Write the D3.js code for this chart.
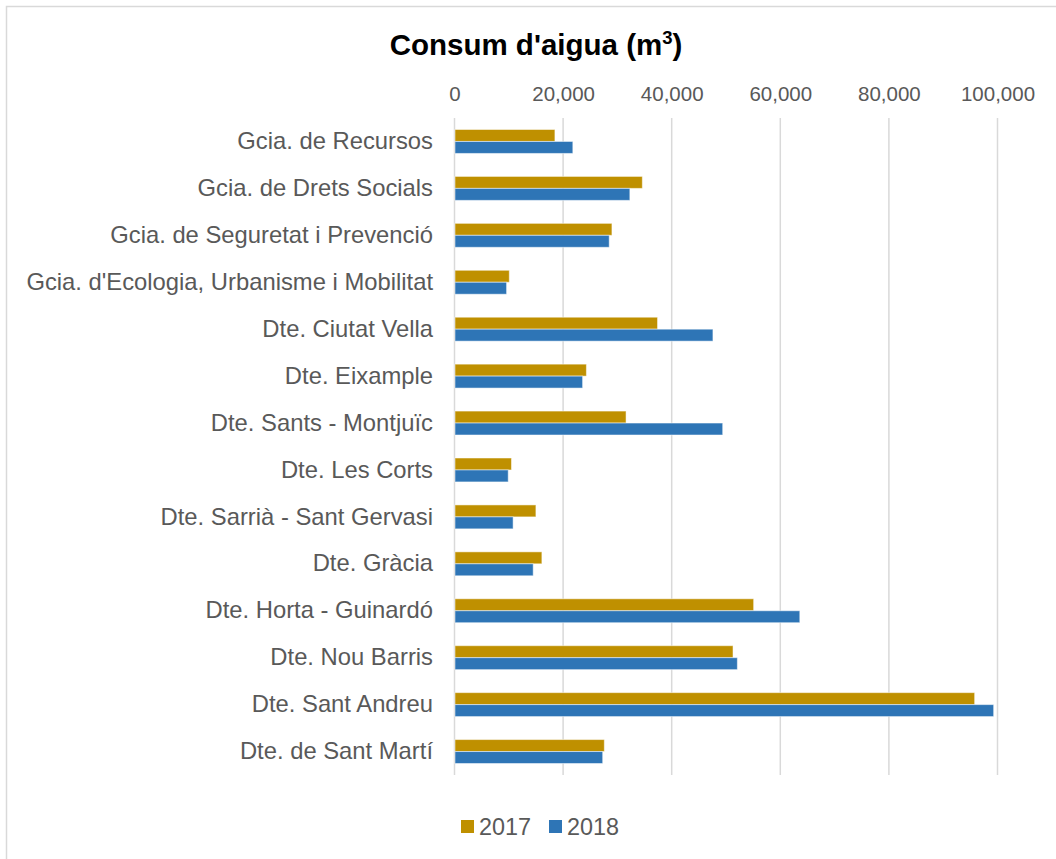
<!DOCTYPE html>
<html>
<head>
<meta charset="utf-8">
<script src="https://cdn.jsdelivr.net/npm/d3@7"></script>
<style>
  body { margin: 0; background: #fff; }
  text { font-family: "Liberation Sans", Arial, sans-serif; }
</style>
</head>
<body>
<div id="chart"></div>
<script>
// categories top to bottom
var categories = [
    "Gcia. de Recursos",
    "Gcia. de Drets Socials",
    "Gcia. de Seguretat i Prevenció",
    "Gcia. d'Ecologia, Urbanisme i Mobilitat",
    "Dte. Ciutat Vella",
    "Dte. Eixample",
    "Dte. Sants - Montjuïc",
    "Dte. Les Corts",
    "Dte. Sarrià - Sant Gervasi",
    "Dte. Gràcia",
    "Dte. Horta - Guinardó",
    "Dte. Nou Barris",
    "Dte. Sant Andreu",
    "Dte. de Sant Martí"
];
var values2017 = [18400, 34500, 28900, 10000, 37300, 24200, 31500, 10400, 14900, 16000, 55000, 51200, 95700, 27500];
var values2018 = [21700, 32200, 28400, 9500, 47500, 23500, 49300, 9800, 10700, 14400, 63500, 52000, 99200, 27200];
var series = ["2017", "2018"];
var seriesColors = ["#BF9000", "#2E75B6"];
var tickValues = [0, 20000, 40000, 60000, 80000, 100000];

var W = 1056, H = 859;
var plotLeft = 454.5, plotRight = 997.5, plotTop = 118, plotBottom = 775;

var svg = d3.select("#chart").append("svg").attr("width", W).attr("height", H);

// outer chart border (cut off on the right and bottom)
svg.append("rect")
    .attr("x", 6.5).attr("y", 6.5)
    .attr("width", W + 10).attr("height", H + 10)
    .attr("fill", "#fff").attr("stroke", "#d9d9d9").attr("stroke-width", 1.5);

var x = d3.scaleLinear().domain([0, 100000]).range([plotLeft, plotRight]);
var y = d3.scaleBand().domain(categories).range([plotTop, plotBottom]).paddingInner(0.49).paddingOuter(0.245);
var ySub = d3.scaleBand().domain(series).range([0, y.bandwidth()]);

// gridlines
svg.append("g").selectAll("line")
    .data(tickValues)
    .enter().append("line")
    .attr("x1", function(d) { return x(d); })
    .attr("x2", function(d) { return x(d); })
    .attr("y1", plotTop).attr("y2", plotBottom)
    .attr("stroke", "#d9d9d9").attr("stroke-width", 1.5);

// top axis labels
var xAxis = d3.axisTop(x).tickValues(tickValues).tickFormat(d3.format(",")).tickSize(0).tickPadding(0);
var gx = svg.append("g").attr("transform", "translate(0,101)").call(xAxis);
gx.select(".domain").remove();
gx.selectAll("text")
    .attr("fill", "#595959")
    .style("font-size", "20.5px")
    .style("font-family", "'Liberation Sans', Arial, sans-serif")
    .attr("dy", 0);

// category labels
var yAxis = d3.axisLeft(y).tickSize(0).tickPadding(21.5);
var gy = svg.append("g").attr("transform", "translate(" + plotLeft + ",0)").call(yAxis);
gy.select(".domain").remove();
gy.selectAll("text")
    .attr("fill", "#595959")
    .style("font-size", "23.8px")
    .style("font-family", "'Liberation Sans', Arial, sans-serif");

// bars
var rows = categories.map(function(c, i) {
    return { cat: c, vals: [values2017[i], values2018[i]] };
});
var groups = svg.append("g").selectAll("g")
    .data(rows)
    .enter().append("g")
    .attr("transform", function(d) { return "translate(0," + y(d.cat) + ")"; });
groups.selectAll("rect")
    .data(function(d) { return d.vals.map(function(v, j) { return { s: series[j], v: v, j: j }; }); })
    .enter().append("rect")
    .attr("x", x(0) + 0.5)
    .attr("y", function(d) { return ySub(d.s); })
    .attr("width", function(d) { return x(d.v) - x(0); })
    .attr("height", ySub.bandwidth())
    .attr("fill", function(d) { return seriesColors[d.j]; })
    .attr("stroke", "#fff").attr("stroke-opacity", 0.5).attr("stroke-width", 1);

// title
var title = svg.append("text")
    .attr("x", 536).attr("y", 55)
    .attr("text-anchor", "middle")
    .style("font-size", "29.5px").style("font-weight", "bold")
    .attr("fill", "#000");
title.append("tspan").text("Consum d'aigua (m");
title.append("tspan").text("3").style("font-size", "18.5px").attr("dy", -11);
title.append("tspan").text(")").attr("dy", 11);

// legend
var legend = svg.append("g").selectAll("g")
    .data(series)
    .enter().append("g")
    .attr("transform", function(d, i) { return "translate(" + (461 + i * 88) + ",820)"; });
legend.append("rect")
    .attr("width", 13).attr("height", 13)
    .attr("fill", function(d, i) { return seriesColors[i]; });
legend.append("text")
    .attr("x", 18).attr("y", 15)
    .attr("fill", "#595959")
    .style("font-size", "23.4px")
    .text(function(d) { return d; });
</script>
</body>
</html>
